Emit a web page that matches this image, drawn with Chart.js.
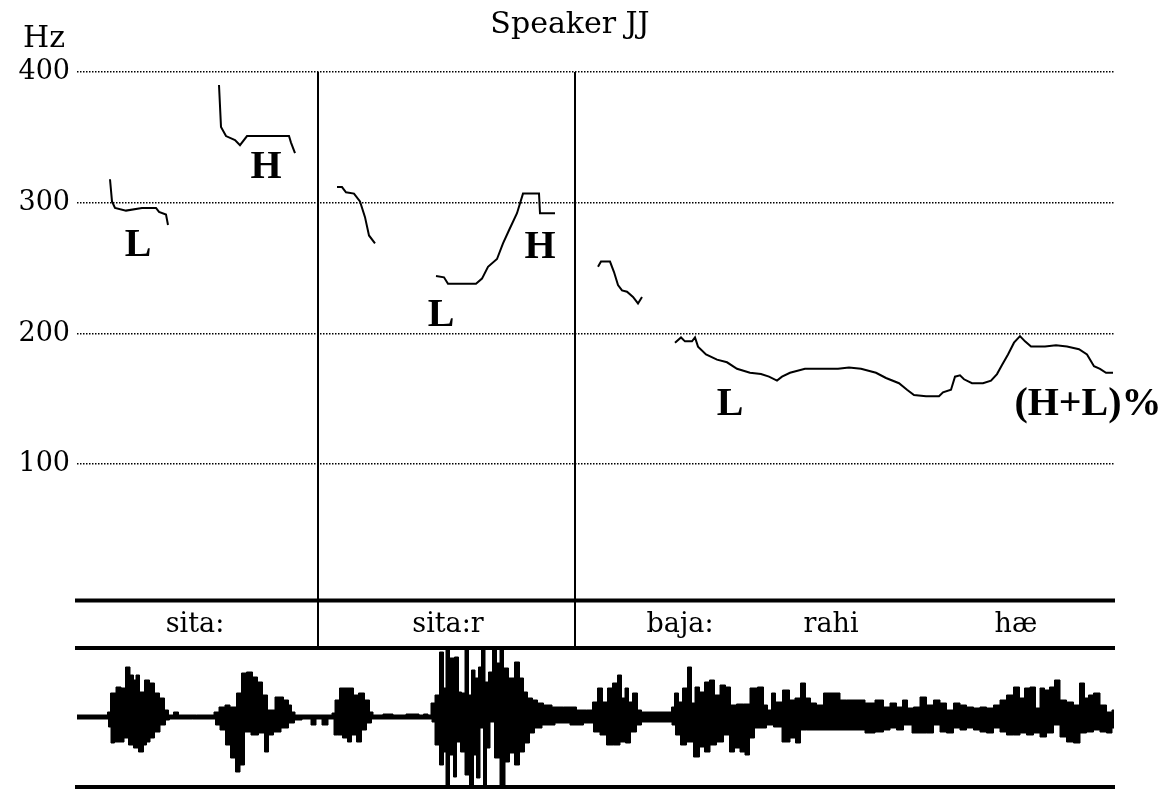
<!DOCTYPE html>
<html>
<head>
<meta charset="utf-8">
<script src="https://cdn.jsdelivr.net/npm/chart.js@4.4.1/dist/chart.umd.min.js"></script>
<style>
  html, body { margin: 0; padding: 0; background: #fff; }
</style>
</head>
<body>
<canvas id="grafico" width="1173" height="789"></canvas>
<script>
// time axis: frames from the start of the file (0 .. 1037)
const tMax = 1037;

// F0 contour, one entry per voiced stretch
const pitchTimes = [
  [33, 35, 38, 49, 65, 79, 82, 89, 91],
  [142, 144, 149, 158, 163, 170, 191, 212, 214, 218],
  [260, 265, 269, 277, 283, 288, 292, 298],
  [359, 367, 371, 399, 405, 411, 420, 426, 432, 440, 446, 462, 463, 478],
  [521, 524, 533, 537, 541, 545, 550, 556, 561, 565],
  [598, 604, 608, 615, 618, 621, 629, 640, 650, 660, 673, 684, 692, 700, 705, 713, 728, 746, 761, 772,
   784, 799, 809, 822, 830, 837, 849, 862, 866, 874, 878, 883, 887, 895, 906, 914, 920, 925, 931, 937,
   943, 948, 954, 968, 979, 990, 1002, 1010, 1017, 1023, 1029, 1036]
];
const pitchHz = [
  [318, 301, 296, 294, 296, 296, 293, 291, 283],
  [390, 358, 351, 348, 344, 351, 351, 351, 346, 338],
  [312, 312, 308, 307, 301, 289, 275, 269],
  [244, 243, 238, 238, 242, 251, 257, 269, 279, 292, 307, 307, 292, 292],
  [251, 255, 255, 247, 237, 233, 232, 228, 223, 228],
  [193, 197, 194, 194, 197, 190, 184, 180, 178, 173, 170, 169, 167, 164, 167, 170, 173, 173, 173, 174,
   173, 170, 166, 162, 157, 153, 152, 152, 155, 157, 167, 168, 165, 162, 162, 164, 169, 176, 184, 193,
   198, 194, 190, 190, 191, 190, 188, 184, 175, 173, 170, 170]
];
const hzTicks = [100, 200, 300, 400];

// tone labels
const toneText = ['L', 'H', 'L', 'H', 'L', '(H+L)%'];
const toneTime = [61, 189, 364, 463, 653, 1011];
const toneHz = [259, 319, 206, 258, 138, 138];

// word tier
const words = ['sita:', 'sita:r', 'baja:', 'rahi', 'hæ'];
const wordTime = [118, 371, 603, 754, 939];
const wordBounds = [241, 498];

// waveform envelope [time, amplitude], clipping level 68
const waveUpper = [[0,2],[30,2],[31,5],[36,24],[42,30],[46,29],[51,50],[55,42],[58,37],[60,42],[65,25],[70,37],[75,34],[80,24],[85,19],[90,7],[93,2],[100,5],[103,2],[136,2],[138,5],[146,10],[150,12],[156,10],[163,24],[166,44],[173,45],[178,40],[183,35],[188,22],[193,7],[203,20],[210,17],[213,12],[216,5],[220,2],[254,2],[256,4],[260,17],[265,29],[275,29],[278,22],[285,24],[290,17],[295,5],[297,2],[315,3],[317,2],[341,3],[343,2],[350,3],[352,2],[356,14],[360,22],[365,65],[368,29],[370,67],[375,59],[380,60],[383,25],[386,24],[390,67],[393,22],[396,47],[400,39],[403,50],[406,67],[410,35],[413,45],[418,67],[421,54],[425,67],[428,49],[435,39],[440,55],[445,39],[448,25],[453,19],[458,17],[463,14],[470,12],[480,10],[493,10],[506,7],[513,7],[518,15],[523,29],[528,15],[533,29],[538,34],[543,42],[546,19],[550,29],[553,15],[558,24],[563,7],[566,5],[594,5],[595,10],[600,24],[603,15],[608,29],[613,50],[616,14],[620,30],[625,25],[630,35],[635,37],[640,22],[646,32],[651,30],[656,12],[663,13],[670,13],[676,29],[685,30],[688,12],[693,7],[696,24],[701,15],[710,27],[715,17],[721,19],[726,34],[731,19],[736,14],[743,12],[750,24],[760,24],[766,17],[773,17],[783,17],[793,14],[803,17],[810,10],[816,14],[823,10],[828,17],[833,9],[840,10],[846,20],[853,12],[860,17],[866,14],[873,7],[880,14],[886,12],[893,10],[900,9],[906,10],[913,9],[920,12],[926,17],[933,22],[940,30],[945,19],[950,29],[956,30],[961,9],[965,29],[970,27],[975,30],[980,37],[986,17],[993,15],[1000,12],[1005,34],[1010,19],[1013,22],[1020,24],[1026,12],[1033,5],[1037,7]];
const waveLower = [[0,2],[30,2],[33,10],[35,26],[40,25],[46,25],[48,21],[55,28],[58,31],[65,35],[68,28],[71,25],[75,21],[80,15],[86,8],[91,3],[94,2],[137,2],[140,8],[146,13],[151,28],[156,41],[161,55],[165,48],[170,15],[178,18],[185,16],[190,35],[193,18],[200,15],[208,11],[215,6],[220,3],[230,2],[238,8],[240,2],[250,8],[252,2],[256,2],[258,18],[263,18],[268,21],[273,25],[276,18],[283,25],[286,13],[293,6],[296,2],[354,2],[356,5],[360,28],[365,48],[368,35],[370,68],[375,38],[378,60],[381,25],[386,35],[390,58],[395,68],[398,38],[401,61],[405,11],[408,68],[411,31],[415,5],[420,41],[426,68],[430,45],[435,36],[440,48],[445,35],[450,26],[455,16],[460,11],[470,8],[486,6],[500,8],[513,6],[520,15],[526,18],[533,28],[540,28],[546,25],[551,26],[556,15],[563,8],[566,5],[594,5],[596,8],[601,18],[606,28],[613,25],[620,40],[625,30],[630,35],[636,28],[643,25],[650,18],[655,35],[660,31],[666,35],[670,38],[675,21],[680,11],[686,11],[693,8],[700,10],[710,25],[716,21],[721,26],[726,13],[733,13],[773,13],[783,13],[793,16],[803,15],[810,13],[816,11],[823,13],[830,8],[840,16],[846,16],[853,16],[860,8],[866,15],[873,16],[880,11],[886,13],[893,11],[900,13],[906,15],[913,16],[920,11],[926,15],[933,18],[940,18],[946,16],[953,18],[960,16],[966,20],[973,16],[980,8],[986,20],[993,25],[1000,26],[1006,16],[1013,15],[1020,13],[1026,15],[1033,16],[1037,11]];

const serif = '"DejaVu Serif", serif';

const datasets = pitchTimes.map((ts, i) => ({
  data: ts.map((t, j) => ({ x: t, y: pitchHz[i][j] })),
  yAxisID: 'y',
  borderColor: '#000',
  borderWidth: 2,
  pointRadius: 0,
  tension: 0,
  fill: false
}));

datasets.push({
  data: waveUpper.map(p => ({ x: p[0], y: p[1] })),
  yAxisID: 'yw',
  borderColor: '#000',
  backgroundColor: '#000',
  borderWidth: 1,
  pointRadius: 0,
  stepped: 'middle',
  fill: { value: 0 }
});
datasets.push({
  data: waveLower.map(p => ({ x: p[0], y: -p[1] })),
  yAxisID: 'yw',
  borderColor: '#000',
  backgroundColor: '#000',
  borderWidth: 1,
  pointRadius: 0,
  stepped: 'middle',
  fill: { value: 0 }
});

// title, Hz, tone labels, word tier
const extras = {
  id: 'extras',
  afterDraw(chart) {
    const { ctx, chartArea: a } = chart;
    const x = chart.scales.x, y = chart.scales.y;
    const y0 = y.getPixelForValue(0);
    const tierTop = y0 + 5.5, tierBot = y0 + 53;
    ctx.save();
    ctx.fillStyle = '#000';
    ctx.strokeStyle = '#000';

    ctx.lineWidth = 4;
    [tierTop, tierBot, a.bottom].forEach(py => {
      ctx.beginPath();
      ctx.moveTo(a.left - 2, py);
      ctx.lineTo(a.right + 1, py);
      ctx.stroke();
    });

    ctx.lineWidth = 2;
    wordBounds.forEach(b => {
      const px = Math.round(x.getPixelForValue(b));
      ctx.beginPath();
      ctx.moveTo(px, y.getPixelForValue(400));
      ctx.lineTo(px, tierBot);
      ctx.stroke();
    });

    ctx.textAlign = 'center';
    ctx.textBaseline = 'alphabetic';
    ctx.font = '27px ' + serif;
    words.forEach((w, i) => ctx.fillText(w, x.getPixelForValue(wordTime[i]), y0 + 37));

    ctx.font = 'bold 40px "Liberation Serif", serif';
    toneText.forEach((s, i) => ctx.fillText(s, x.getPixelForValue(toneTime[i]), y.getPixelForValue(toneHz[i])));

    ctx.font = '30px ' + serif;
    ctx.fillText('Speaker JJ', 570, 33);
    ctx.fillText('Hz', 44, 47);
    ctx.restore();
  }
};

new Chart(document.getElementById('grafico'), {
  type: 'line',
  data: { datasets },
  options: {
    responsive: false,
    animation: false,
    layout: { padding: { top: 72, right: 59, bottom: 2, left: 0 } },
    plugins: { legend: { display: false }, tooltip: { enabled: false }, title: { display: false } },
    scales: {
      x: { type: 'linear', min: 0, max: tMax, display: false },
      y: {
        type: 'linear',
        min: -146.8,
        max: 400,
        afterBuildTicks: s => { s.ticks = hzTicks.map(v => ({ value: v })); },
        afterFit: s => { s.width = 77; s.paddingTop = 0; s.paddingBottom = 0; },
        border: { display: false, dash: [1.5, 1.5] },
        grid: { color: '#000', lineWidth: 1.6, drawTicks: false },
        ticks: { color: '#000', font: { family: serif, size: 27 }, padding: 7 }
      },
      yw: { type: 'linear', min: -70, max: 645, display: false }
    }
  },
  plugins: [extras]
});
</script>
</body>
</html>
